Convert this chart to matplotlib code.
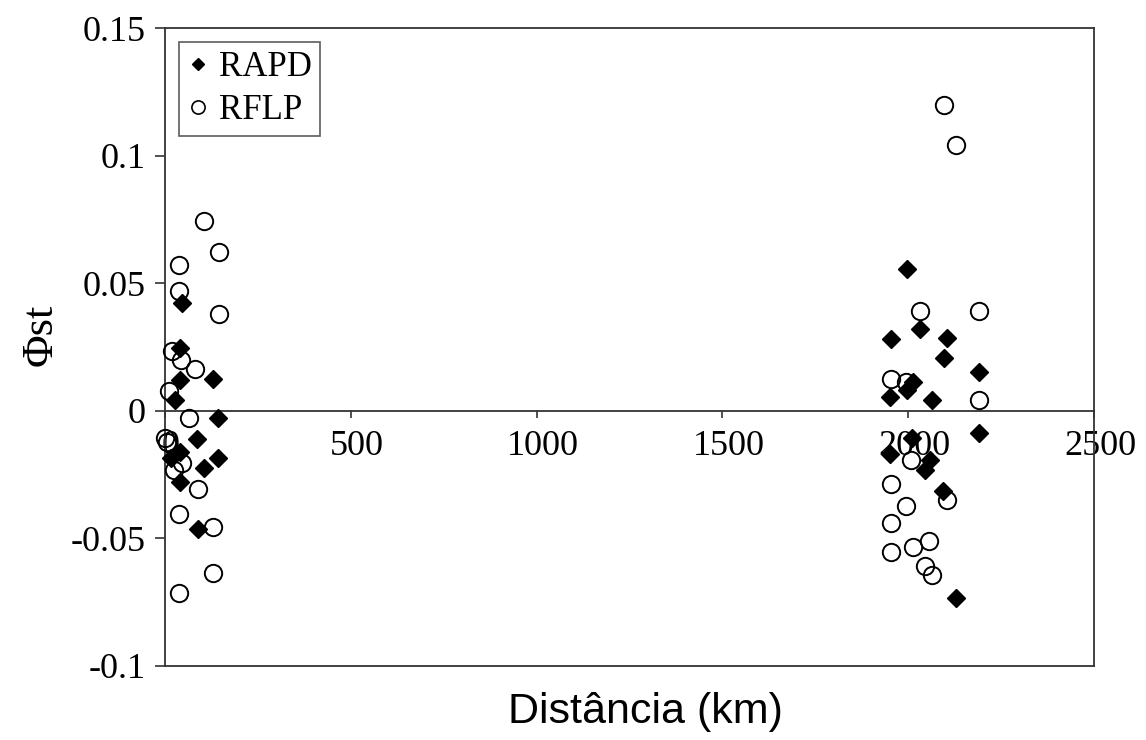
import matplotlib.pyplot as plt
import matplotlib.transforms as mtransforms
from matplotlib.lines import Line2D

# RAPD (filled diamonds)
rapd_x = [45, 40, 40, 128, 26, 143, 85, 40, 17, 40, 106, 143, 89,
          1998, 2032, 2104, 2096, 2191, 2014, 1996, 1953, 1951, 2064,
          2010, 1951, 2059, 2045, 2093, 2190, 2129]
rapd_y = [0.0422, 0.0247, 0.0122, 0.0124, 0.0043, -0.0029, -0.0111, -0.016, -0.0186,
          -0.0277, -0.0225, -0.0185, -0.0463,
          0.0557, 0.032, 0.0287, 0.0209, 0.0152, 0.0115, 0.0082, 0.0281, 0.0056, 0.0043,
          -0.0107, -0.0169, -0.0191, -0.0233, -0.0313, -0.0087, -0.0732]

# RFLP (open circles)
rflp_x = [105, 144, 38, 38, 144, 18, 43, 82, 11,
          64, 0, 6, 47, 23, 89, 38, 129, 129, 38,
          2096, 2128, 2032, 2191, 1994, 1953, 2191,
          2007, 2104, 1994, 2057, 2014, 2045, 2064, 1953, 1953, 1953]
rflp_y = [0.0745, 0.0624, 0.0574, 0.0471, 0.038, 0.0235, 0.02, 0.0166, 0.0077,
          -0.0029, -0.0107, -0.012, -0.0202, -0.023, -0.0306, -0.0405, -0.0456, -0.0634, -0.0712,
          0.1199, 0.1043, 0.0393, 0.0393, 0.0115, 0.0124, 0.0043,
          -0.0191, -0.0349, -0.0371, -0.0509, -0.0532, -0.0606, -0.0643, -0.0288, -0.044, -0.0552]

xticks = [0, 500, 1000, 1500, 2000, 2500]
yticks = [-0.1, -0.05, 0, 0.05, 0.1, 0.15]
ytick_labels = ['-0.1', '-0.05', '0', '0.05', '0.1', '0.15']

plt.rcParams['font.family'] = 'Liberation Serif'
line_col = '#333333'

fig = plt.figure(figsize=(11.46, 7.4), dpi=100)
ax = fig.add_axes([0.144, 0.1, 0.8106, 0.8615])

ax.plot(rapd_x, rapd_y, linestyle='none', marker='D', ms=9.5, color='black', clip_on=False, zorder=3)
ax.plot(rflp_x, rflp_y, linestyle='none', marker='o', ms=12.5, mfc='none', mec='black', mew=1.4,
        clip_on=False, zorder=3)

ax.set_xlim(0, 2500)
ax.set_ylim(-0.1, 0.15)

for s in ['left', 'right', 'top']:
    ax.spines[s].set_color(line_col)
    ax.spines[s].set_linewidth(1.3)
ax.spines['bottom'].set_position(('data', 0))
ax.spines['bottom'].set_color(line_col)
ax.spines['bottom'].set_linewidth(1.3)
ax.plot([0, 1], [0, 0], transform=ax.transAxes, color=line_col, lw=1.3, clip_on=False)

ax.set_xticks(xticks)
ax.set_xticklabels([str(v) for v in xticks])
ax.set_yticks(yticks)
ax.set_yticklabels(ytick_labels)
ax.tick_params(axis='x', direction='out', length=5, width=1.2, color=line_col, labelsize=26, pad=9)
ax.tick_params(axis='y', direction='out', length=7, width=1.2, color=line_col, labelsize=26, pad=7)
offset = mtransforms.ScaledTranslation(0.06, 0, fig.dpi_scale_trans)
for lbl in ax.get_xticklabels():
    lbl.set_transform(lbl.get_transform() + offset)

ax.set_ylabel('Φst', fontsize=32)
ax.yaxis.set_label_coords(-0.112, 0.52)
fig.text(0.563, 0.038, 'Distância (km)', fontsize=31, family='Liberation Sans', ha='center', va='center')

handles = [Line2D([], [], linestyle='none', marker='D', ms=6.5, color='black'),
           Line2D([], [], linestyle='none', marker='o', ms=9.5, mfc='none', mec='black', mew=1.2)]
leg = ax.legend(handles, ['RAPD', 'RFLP'], loc='upper left', fontsize=25, frameon=True,
                fancybox=False, borderaxespad=0.4, handlelength=0.6, handletextpad=0.3,
                borderpad=0.25, labelspacing=0.3)
leg.get_frame().set_edgecolor(line_col)
leg.get_frame().set_linewidth(1.2)

fig.savefig('out.png', dpi=100)
